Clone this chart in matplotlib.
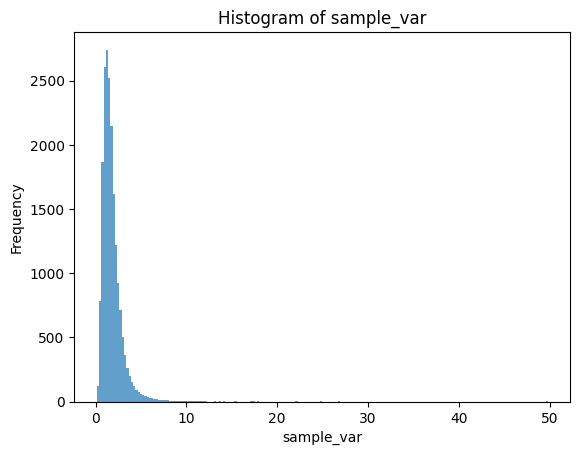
import numpy as np
import matplotlib
matplotlib.use("Agg")
import matplotlib.pyplot as plt

# range of the data and number of bins
x_min = 0.15
x_max = 49.8
n_bins = 200

# counts for the first bins (bin 0 upwards)
head_counts = [120, 780, 1865, 2610, 2742, 2520, 2150, 1620, 1220, 925,
               710, 500, 360, 262, 200, 155, 118, 90, 72, 58,
               48, 40, 34, 30, 25, 21, 18, 16, 13, 11,
               10, 9, 8, 8, 7, 6, 6, 5, 5, 4,
               4, 3, 4, 3, 2, 3, 2, 2]

# sparse values further out in the tail and their counts
tail_values = [12.3, 13.2, 13.7, 14.1, 15.4, 17.1, 17.4, 17.8, 22.1, 24.9, 26.8, 49.7]
tail_counts = [4, 3, 3, 2, 2, 3, 2, 3, 2, 2, 2, 1]

edges = np.linspace(x_min, x_max, n_bins + 1)
centers = (edges[:-1] + edges[1:]) / 2

values = np.concatenate([centers[:len(head_counts)], tail_values])
weights = np.concatenate([head_counts, tail_counts])

fig, ax = plt.subplots(figsize=(6.4, 4.8), dpi=100)
ax.hist(values, bins=edges, weights=weights, color='tab:blue', alpha=0.7)

ax.set_title('Histogram of sample_var')
ax.set_xlabel('sample_var')
ax.set_ylabel('Frequency')

fig.savefig('out.png', bbox_inches='tight')
